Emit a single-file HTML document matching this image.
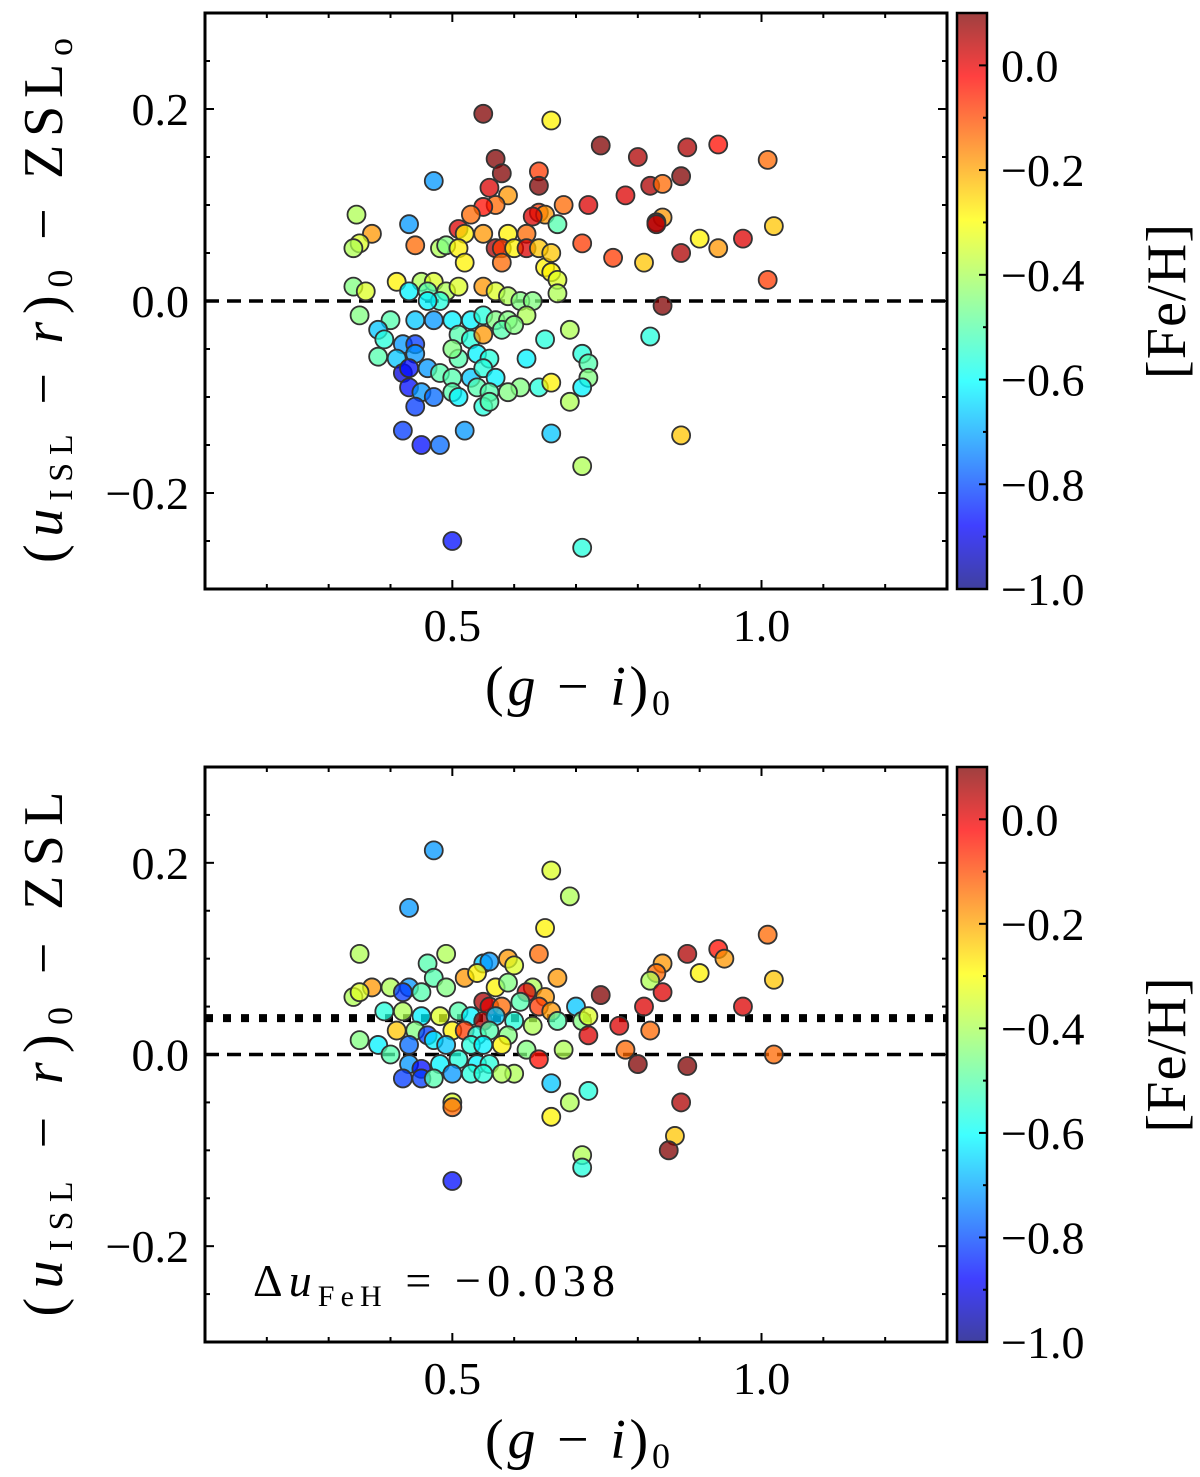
<!DOCTYPE html>
<html><head><meta charset="utf-8"><style>
html,body{margin:0;padding:0;background:#fff}
svg{display:block}
text{font-family:"Liberation Serif","DejaVu Serif",serif;fill:#000}
</style></head><body>
<svg id="fig" width="1200" height="1477" viewBox="0 0 1200 1477" xmlns="http://www.w3.org/2000/svg">
<defs>
<linearGradient id="jet" x1="0" y1="1" x2="0" y2="0">
<stop offset="0" stop-color="#00007f"/><stop offset="0.11" stop-color="#0000ff"/>
<stop offset="0.36" stop-color="#00ffff"/><stop offset="0.5" stop-color="#7fff7f"/>
<stop offset="0.64" stop-color="#ffff00"/><stop offset="0.89" stop-color="#ff0000"/>
<stop offset="1" stop-color="#7f0000"/></linearGradient>
</defs>
</svg>
<script>
// ---- data ----
const topX=[0.55,0.66,0.74,0.80,0.88,0.93,1.01,0.57,0.58,0.64,0.64,0.56,0.47,0.59,0.78,0.82,0.84,0.87,0.57,0.55,0.53,0.72,0.68,0.64,0.65,0.63,0.84,0.83,0.83,0.67,0.345,0.43,0.51,0.52,0.55,0.59,0.62,0.37,0.35,0.34,0.44,0.48,0.49,0.51,0.57,0.58,0.60,0.62,0.64,0.71,0.76,0.81,0.87,0.90,0.93,0.97,1.02,1.01,0.84,0.52,0.58,0.65,0.66,0.66,0.67,0.67,0.45,0.47,0.41,0.34,0.36,0.43,0.46,0.49,0.51,0.55,0.57,0.59,0.61,0.63,0.48,0.46,0.35,0.40,0.44,0.47,0.50,0.53,0.55,0.57,0.59,0.62,0.38,0.39,0.42,0.44,0.51,0.53,0.55,0.58,0.60,0.65,0.69,0.82,0.38,0.41,0.44,0.51,0.50,0.54,0.56,0.62,0.71,0.72,0.42,0.43,0.46,0.48,0.50,0.53,0.55,0.57,0.61,0.64,0.66,0.72,0.43,0.45,0.47,0.50,0.51,0.54,0.56,0.59,0.71,0.44,0.55,0.56,0.69,0.42,0.45,0.48,0.52,0.66,0.87,0.71,0.50,0.71];
const topY=[0.195,0.188,0.162,0.15,0.16,0.163,0.147,0.148,0.133,0.135,0.12,0.118,0.125,0.11,0.11,0.12,0.122,0.13,0.1,0.098,0.09,0.1,0.1,0.092,0.09,0.088,0.087,0.082,0.08,0.08,0.09,0.08,0.075,0.07,0.07,0.07,0.07,0.07,0.06,0.055,0.058,0.055,0.058,0.055,0.055,0.055,0.055,0.055,0.055,0.06,0.045,0.04,0.05,0.065,0.055,0.065,0.078,0.022,-0.005,0.04,0.04,0.035,0.03,0.05,0.022,0.008,0.02,0.02,0.02,0.015,0.01,0.01,0.01,0.01,0.015,0.015,0.01,0.005,0.0,0.0,0.0,0.0,-0.015,-0.02,-0.02,-0.02,-0.02,-0.02,-0.015,-0.02,-0.02,-0.015,-0.03,-0.04,-0.045,-0.045,-0.035,-0.04,-0.035,-0.03,-0.025,-0.04,-0.03,-0.037,-0.058,-0.06,-0.055,-0.06,-0.05,-0.055,-0.06,-0.06,-0.055,-0.065,-0.075,-0.07,-0.07,-0.075,-0.08,-0.08,-0.07,-0.08,-0.09,-0.09,-0.085,-0.08,-0.09,-0.095,-0.1,-0.095,-0.1,-0.09,-0.095,-0.095,-0.09,-0.11,-0.11,-0.105,-0.105,-0.135,-0.15,-0.15,-0.135,-0.138,-0.14,-0.172,-0.25,-0.257];
const topC=[0.1,-0.3,0.1,0.05,0.05,-0.05,-0.15,0.1,0.1,-0.1,0.1,0,-0.7,-0.2,0,0.05,-0.15,0.1,-0.15,-0.05,-0.15,0,-0.15,-0.1,-0.2,0,-0.2,0,0.05,-0.5,-0.4,-0.7,0,-0.3,-0.2,-0.3,-0.15,-0.2,-0.35,-0.4,-0.15,-0.4,-0.45,-0.3,0.05,-0.1,-0.3,0,-0.25,-0.1,-0.1,-0.25,0.05,-0.3,-0.2,0,-0.25,-0.1,0.1,-0.3,-0.15,-0.3,-0.3,-0.25,-0.35,-0.4,-0.4,-0.35,-0.3,-0.45,-0.35,-0.6,-0.5,-0.4,-0.35,-0.2,-0.35,-0.4,-0.45,-0.45,-0.55,-0.6,-0.45,-0.5,-0.65,-0.7,-0.6,-0.6,-0.55,-0.45,-0.45,-0.4,-0.65,-0.55,-0.7,-0.8,-0.5,-0.55,-0.2,-0.5,-0.45,-0.55,-0.4,-0.55,-0.5,-0.65,-0.7,-0.5,-0.45,-0.6,-0.55,-0.6,-0.55,-0.5,-0.9,-0.85,-0.7,-0.5,-0.5,-0.65,-0.55,-0.6,-0.45,-0.55,-0.3,-0.45,-0.85,-0.7,-0.75,-0.5,-0.6,-0.5,-0.5,-0.45,-0.6,-0.8,-0.55,-0.5,-0.4,-0.8,-0.85,-0.75,-0.7,-0.65,-0.25,-0.4,-0.85,-0.55];
const botX=[0.47,0.43,0.66,0.69,0.65,1.01,0.35,0.49,0.59,0.64,0.88,0.93,0.94,0.84,0.46,0.55,0.56,0.60,0.90,0.83,0.67,0.82,1.02,0.52,0.54,0.47,0.43,0.37,0.40,0.34,0.35,0.42,0.45,0.49,0.57,0.59,0.63,0.62,0.65,0.74,0.84,0.81,0.97,0.55,0.56,0.58,0.61,0.64,0.66,0.70,0.39,0.42,0.45,0.48,0.51,0.53,0.55,0.57,0.60,0.63,0.67,0.71,0.72,0.77,0.82,0.72,0.41,0.44,0.46,0.50,0.52,0.54,0.56,0.59,0.35,0.38,0.43,0.47,0.49,0.53,0.55,0.58,0.62,0.68,0.78,0.80,0.88,1.02,0.64,0.40,0.43,0.45,0.48,0.51,0.54,0.56,0.60,0.42,0.45,0.47,0.50,0.53,0.55,0.58,0.66,0.72,0.50,0.50,0.69,0.66,0.87,0.86,0.85,0.71,0.71,0.50];
const botY=[0.213,0.153,0.192,0.165,0.132,0.125,0.105,0.105,0.1,0.105,0.105,0.11,0.1,0.095,0.095,0.095,0.097,0.093,0.085,0.085,0.08,0.077,0.078,0.08,0.085,0.08,0.07,0.07,0.07,0.06,0.065,0.065,0.065,0.07,0.07,0.075,0.07,0.065,0.06,0.062,0.065,0.05,0.05,0.055,0.05,0.05,0.055,0.05,0.045,0.05,0.045,0.045,0.04,0.04,0.045,0.04,0.035,0.04,0.035,0.03,0.035,0.035,0.04,0.03,0.025,0.02,0.025,0.025,0.02,0.025,0.025,0.02,0.025,0.02,0.015,0.01,0.01,0.015,0.01,0.01,0.01,0.01,0.005,0.005,0.005,-0.01,-0.012,0.0,-0.005,0.0,-0.01,-0.015,-0.01,-0.005,-0.01,-0.01,-0.02,-0.025,-0.025,-0.025,-0.02,-0.02,-0.02,-0.02,-0.03,-0.038,-0.05,-0.055,-0.05,-0.065,-0.05,-0.085,-0.1,-0.105,-0.118,-0.132];
const botC=[-0.7,-0.7,-0.35,-0.4,-0.3,-0.15,-0.4,-0.4,-0.2,-0.15,0.05,-0.05,-0.2,-0.2,-0.5,-0.65,-0.7,-0.35,-0.3,-0.15,-0.2,-0.4,-0.25,-0.2,-0.3,-0.5,-0.7,-0.2,-0.4,-0.4,-0.35,-0.8,-0.5,-0.45,-0.3,-0.45,-0.4,0,-0.2,0.1,0,0,0,0.05,0,-0.15,-0.5,-0.1,-0.2,-0.65,-0.55,-0.4,-0.6,-0.35,-0.5,-0.6,0.05,-0.65,-0.55,-0.4,-0.5,-0.45,-0.35,0,-0.15,0,-0.25,-0.45,-0.8,-0.3,-0.1,-0.55,-0.5,-0.45,-0.45,-0.6,-0.75,-0.6,-0.65,-0.55,-0.6,-0.3,-0.45,-0.4,-0.15,0.1,0.1,-0.15,-0.05,-0.5,-0.7,-0.85,-0.6,-0.55,-0.6,-0.55,-0.4,-0.8,-0.8,-0.5,-0.7,-0.55,-0.55,-0.4,-0.65,-0.55,-0.35,-0.15,-0.4,-0.3,0.05,-0.25,0.1,-0.4,-0.55,-0.85];
const xTicks=[0.5,1.0];
const yTicks=[-0.2,0.0,0.2];
const cTicks=[-1.0,-0.8,-0.6,-0.4,-0.2,0.0];
const deltaU=-0.038;

const NS="http://www.w3.org/2000/svg";
const svg=document.getElementById('fig');
function mk(tag,attrs,parent){const e=document.createElementNS(NS,tag);for(const k in attrs)e.setAttribute(k,attrs[k]);(parent||svg).appendChild(e);return e;}
function jet(v){
  function c(x){return Math.max(0,Math.min(1,x));}
  const r=c(1.5-Math.abs(4*v-3)),g=c(1.5-Math.abs(4*v-2)),b=c(1.5-Math.abs(4*v-1));
  return `rgb(${Math.round(r*255)},${Math.round(g*255)},${Math.round(b*255)})`;}
const fmt=v=>(v<0?'\u2212':'')+Math.abs(v).toFixed(1);

function panel(top,bottom,xs,ys,cs,yl,isBottom){
  const L=205,R=947;
  const X=v=>L+(v-0.1)/1.2*(R-L);
  const Y=v=>bottom-(v+0.3)/0.6*(bottom-top);
  const g=mk('g',{});
  
  
  const z=mk('line',{x1:L,x2:R,y1:Y(0),y2:Y(0),stroke:'#000','stroke-width':3.5,'stroke-dasharray':'14 8'},g);
  
  
  if(isBottom){
    const d=mk('line',{x1:L,x2:R,y1:Y(-deltaU),y2:Y(-deltaU),stroke:'#000','stroke-width':8,'stroke-dasharray':'8 10'},g);
    
    
  }
  for(let i=0;i<xs.length;i++){
    const v=(cs[i]+1.0)/1.1;
    const p=mk('circle',{cx:X(xs[i]),cy:Y(ys[i]),r:9,fill:jet(v),'fill-opacity':0.75,stroke:'#333','stroke-width':1.8},g);
    
    
  }
  const fr=mk('rect',{x:L,y:top,width:R-L,height:bottom-top,fill:'none',stroke:'#000','stroke-width':3},g);
  
  
  for(let t=0.1;t<=1.31;t+=0.1){const x=X(t);const maj=xTicks.some(m=>Math.abs(m-t)<1e-6);const len=maj?9:5;
    mk('line',{x1:x,x2:x,y1:bottom,y2:bottom-len,stroke:'#000','stroke-width':2},g);
    mk('line',{x1:x,x2:x,y1:top,y2:top+len,stroke:'#000','stroke-width':2},g);}
  xTicks.forEach(t=>{const tx=mk('text',{x:X(t),y:bottom+52,'font-size':46,'text-anchor':'middle'},g);tx.textContent=t.toFixed(1);
    });
  for(let t=-0.3;t<=0.31;t+=0.05){const y=Y(t);const maj=yTicks.some(m=>Math.abs(m-t)<1e-6);const len=maj?9:5;
    mk('line',{x1:L,x2:L+len,y1:y,y2:y,stroke:'#000','stroke-width':2},g);
    mk('line',{x1:R,x2:R-len,y1:y,y2:y,stroke:'#000','stroke-width':2},g);}
  yTicks.forEach(t=>{const tx=mk('text',{x:L-16,y:Y(t)+16,'font-size':46,'text-anchor':'end'},g);tx.textContent=fmt(t);
    });
  const xl=mk('text',{x:485,y:bottom+116,'font-size':56,textLength:185,lengthAdjust:'spacing'},g);
  xl.innerHTML='(<tspan font-style="italic">g</tspan> \u2212 <tspan font-style="italic">i</tspan>)<tspan font-size="36" dy="10">0</tspan>';
  
  const cy=(top+bottom)/2;
  const ylab=mk('text',{x:-262,y:0,'font-size':56,textLength:525,lengthAdjust:'spacing',transform:`translate(62,${cy}) rotate(-90)`},g);
  ylab.innerHTML='(<tspan font-style="italic">u</tspan><tspan font-size="34" dy="10">ISL</tspan><tspan dy="-10"> \u2212 </tspan><tspan font-style="italic">r</tspan>)<tspan font-size="36" dy="10">0</tspan><tspan dy="-10"> \u2212 ZSL</tspan>'+yl;
  
  if(isBottom){
    const an=mk('text',{x:253,y:1296,'font-size':46,textLength:362,lengthAdjust:'spacing'},g);
    an.innerHTML='\u0394<tspan font-style="italic">u</tspan><tspan font-size="30" dy="10">FeH</tspan><tspan dy="-10"> = \u22120.038</tspan>';
    
  }
  const CL=957,CR=987;
  const C=v=>bottom-(v+1.0)/1.1*(bottom-top);
  const cb=mk('rect',{x:CL,y:top,width:CR-CL,height:bottom-top,fill:'url(#jet)','fill-opacity':0.75,stroke:'#000','stroke-width':2.5},g);
  
  for(let t=-1.0;t<=0.101;t+=0.1){const y=C(t);const maj=cTicks.some(m=>Math.abs(m-t)<1e-6);const len=maj?8:4;
    mk('line',{x1:CR,x2:CR-len,y1:y,y2:y,stroke:'#000','stroke-width':2},g);}
  cTicks.forEach(t=>{const tx=mk('text',{x:CR+14,y:C(t)+16,'font-size':46},g);tx.textContent=fmt(t);
    });
  const cl=mk('text',{x:-78,y:0,'font-size':56,textLength:155,lengthAdjust:'spacing',transform:`translate(1185,${cy}) rotate(-90)`},g);
  cl.textContent='[Fe/H]';
  
}
panel(13,589,topX,topY,topC,'<tspan font-size="36" dy="10">o</tspan>',false);
panel(767,1342,botX,botY,botC,'',true);
</script>
</body></html>
